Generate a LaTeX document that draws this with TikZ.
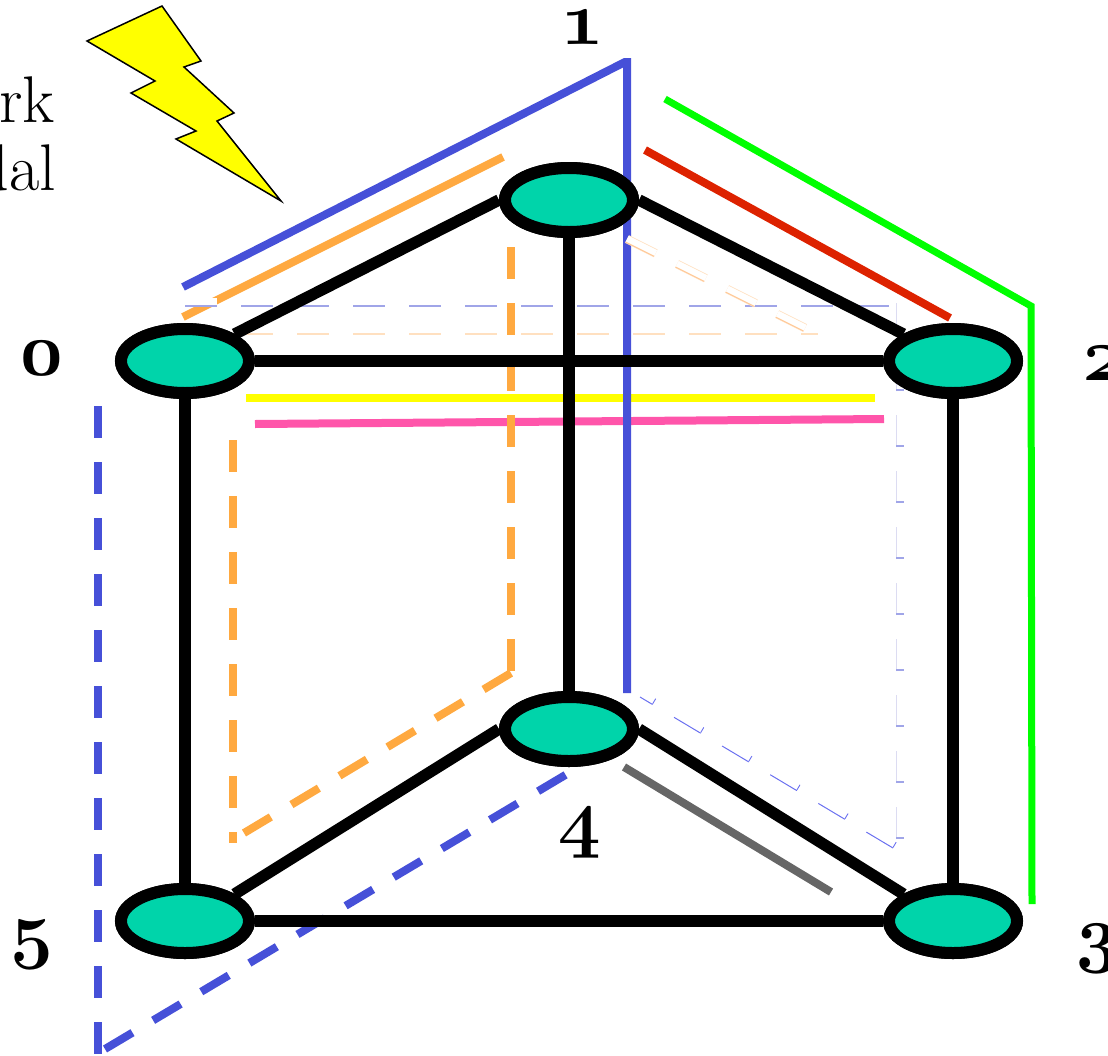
\documentclass[tikz,border=0pt]{standalone}
\usepackage{amsmath}
\usepackage{fontspec}
\setmainfont{Latin Modern Roman}
\usetikzlibrary{shapes.geometric, positioning}
\definecolor{Teal1}{RGB}{0, 212, 170}
\definecolor{Blue1}{RGB}{70, 80, 216}
\definecolor{Orange1}{RGB}{255, 169, 64}
\definecolor{Green1}{RGB}{0, 255, 0}
\definecolor{Red1}{RGB}{221, 34, 0}
\definecolor{Pink1}{RGB}{255, 85, 170}
\definecolor{Gray1}{RGB}{102, 102, 102}
\definecolor{Yellow1}{RGB}{255, 255, 0}
\definecolor{GhostBlue}{RGB}{160, 165, 232}
\definecolor{GhostFaint}{RGB}{220, 220, 242}
\definecolor{GhostOrange}{RGB}{255, 224, 192}
\definecolor{GhostOrange2}{RGB}{255, 200, 150}
\definecolor{ThinBlue}{RGB}{106, 112, 240}

\begin{document}
\begin{tikzpicture}[
    x=1pt, y=-1pt,
    vertex/.style={ellipse, draw=black, fill=Teal1, line width=12pt, minimum width=128pt, minimum height=64pt, inner sep=0pt},
    edge/.style={draw=black, line width=11.5pt},
    hop/.style={line width=8pt, line join=miter},
    hopdash/.style={hop, dash pattern=on 32pt off 24pt},
    ghostfill/.style={draw=white, line width=7pt, dash pattern=on 32pt off 24pt},
    ghostline/.style={line width=2pt, dash pattern=on 32pt off 24pt},
    ghostside/.style={draw=GhostFaint, line width=.8pt, double=white, double distance=7pt, dash pattern=on 32pt off 24pt},
    ghosttick/.style={draw=GhostBlue, line width=8pt, dash pattern=on 2pt off 54pt},
    num/.style={font=\fontsize{76}{76}\selectfont\bfseries\addfontfeature{Numbers=OldStyle}, inner sep=0pt, anchor=base},
    txt/.style={font=\fontsize{66}{66}\selectfont, inner sep=0pt, anchor=base east}
  ]
    \clip (0,0) rectangle (1108,1055);

    % Vertices
    \node[vertex] (v0) at (185,361) {};
    \node[vertex] (v1) at (569,200) {};
    \node[vertex] (v2) at (953,361) {};
    \node[vertex] (v3) at (953,921) {};
    \node[vertex] (v4) at (569,729) {};
    \node[vertex] (v5) at (185,921) {};

    % Labels
    \node[num] (l0) at (42,375) {0};
    \node[num] (l1) at (583,44) {1};
    \node[num] (l2) at (1104,380) {2};
    \node[num] (l3) at (1098,958) {3};
    \node[num] (l4) at (580,843) {4};
    \node[num] (l5) at (32,954) {5};
    \node[txt] (t1) at (55,122) {rk};
    \node[txt] (t2) at (56,190) {dal};

    % Bolt
    \draw[draw=black, fill=Yellow1, line width=1.5pt] (162,6) -- (201,61) -- (184,67) -- (234,113) -- (217,121) -- (281,201)
      -- (176,139) -- (196,131) -- (131,93) -- (155,81) -- (87,41) -- cycle;

    % Route end points
    \coordinate (a1) at (183,287); \coordinate (a2) at (625,62); \coordinate (a3) at (627,62); \coordinate (a4) at (627,693);
    \coordinate (b1) at (665,99); \coordinate (b2) at (1031,306); \coordinate (b3) at (1032,904);
    \coordinate (c1) at (645,150); \coordinate (c2) at (950,318);
    \coordinate (d1) at (183,317); \coordinate (d2) at (503,157);
    \coordinate (e1) at (511,247); \coordinate (e2) at (511,673); \coordinate (e3) at (244,833);
    \coordinate (e4) at (233,440); \coordinate (e5) at (233,843);
    \coordinate (f1) at (246,398); \coordinate (f2) at (875,398);
    \coordinate (g1) at (255,424); \coordinate (g2) at (884,419);
    \coordinate (h1) at (624,767); \coordinate (h2) at (831,892);
    \coordinate (i1) at (98,406); \coordinate (i2) at (98,1055);
    \coordinate (j1) at (105,1049); \coordinate (j2) at (567,774);
    % Ghost end points
    \coordinate (k1) at (185,301.5); \coordinate (k2) at (889,301.5);
    \coordinate (k3) at (185,305.5); \coordinate (k4) at (889,305.5);
    \coordinate (m1) at (185,330); \coordinate (m2) at (818,330);
    \coordinate (m3) at (185,334); \coordinate (m4) at (818,334);
    \coordinate (n1) at (900,839); \coordinate (n2) at (900,300);
    \coordinate (o1) at (893,848); \coordinate (o2) at (640,697);
    \coordinate (o3) at (895,845); \coordinate (o4) at (642,694);
    \coordinate (p1) at (627,239); \coordinate (p2) at (805,328);
    \coordinate (p3) at (625.5,242); \coordinate (p4) at (803.5,331);

    % Routes under the ghosts
    \draw[hop, Orange1] (d1) -- (d2);
    \draw[ghostfill] (k1) -- (k2);
    \draw[ghostline, GhostBlue] (k3) -- (k4);
    \draw[ghostfill] (m1) -- (m2);
    \draw[ghostline, GhostOrange] (m3) -- (m4);
    \draw[ghostside] (n1) -- (n2);
    \draw[ghosttick] (n1) -- (n2);
    \draw[line width=1pt, ThinBlue, dash pattern=on 31pt off 25pt] (o1) -- (o2);
    \draw[line width=6pt, ThinBlue, dash pattern=on .9pt off 55.1pt] (o3) -- (o4);

    % Routes
    \draw[hop, Yellow1] (f1) -- (f2);
    \draw[hop, Pink1] (g1) -- (g2);
    \draw[hop, Blue1] (a1) -- (a2) -- (a3) -- (a4);
    \draw[hop, line width=7pt, Green1] (b1) -- (b2) -- (b3);
    \draw[hop, Red1] (c1) -- (c2);
    \draw[hopdash, Orange1] (e1) -- (e2);
    \draw[hopdash, Orange1] (e2) -- (e3);
    \draw[hopdash, Orange1] (e4) -- (e5);
    \draw[hop, Gray1] (h1) -- (h2);
    \draw[hopdash, Blue1] (i1) -- (i2);
    \draw[hopdash, Blue1] (j1) -- (j2);

    % Orange ghost
    \draw[draw=GhostOrange, line width=.8pt, double=white, double distance=7pt, dash pattern=on 32pt off 24pt] (p1) -- (p2);
    \draw[line width=1pt, GhostOrange2, dash pattern=on 32pt off 24pt] (p3) -- (p4);

    % Edges
    \draw[edge] (v0.north east) -- (v1.west);
    \draw[edge] (v1.east) -- (v2.north west);
    \draw[edge] (v0) -- (v2);
    \draw[edge] (v1) -- (v4);
    \draw[edge] (v0) -- (v5);
    \draw[edge] (v2) -- (v3);
    \draw[edge] (v4.west) -- (v5.north east);
    \draw[edge] (v4.east) -- (v3.north west);
    \draw[edge] (v5) -- (v3);

    % Vertices again, over routes
    \foreach \v in {v0,v1,v2,v3,v4,v5}
      \node[vertex] at (\v) {};
  \end{tikzpicture}
\end{document}
